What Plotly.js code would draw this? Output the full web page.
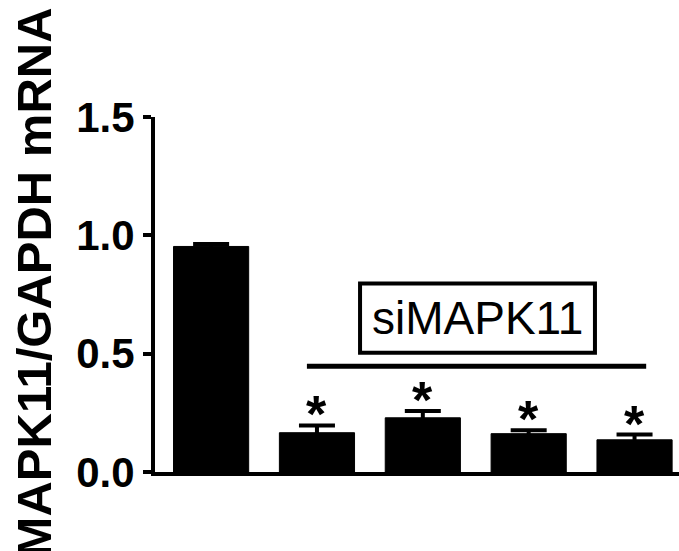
<!DOCTYPE html>
<html>
<head>
<meta charset="utf-8">
<script src="https://cdn.plot.ly/plotly-3.0.1.min.js"></script>
<style>html,body{margin:0;padding:0;background:#fff;overflow:hidden}</style>
</head>
<body>
<div id="chart" style="width:679px;height:551px"></div>
<script>
const categories = ["Control", "siMAPK11-1", "siMAPK11-2", "siMAPK11-3", "siMAPK11-4"];
const meanValues = [0.953, 0.166, 0.229, 0.162, 0.136];
const errorValues = [0.010, 0.031, 0.029, 0.014, 0.022];
const significance = ["", "*", "*", "*", "*"];
const yTickValues = [0, 0.5, 1.0, 1.5];
const yTickLabels = ["0.0", "0.5", "1.0", "1.5"];
const yTitle = "MAPK11/GAPDH mRNA";
const groupLabel = "siMAPK11";

const FONT = "Liberation Sans, Arial, sans-serif";

const trace = {
  type: "bar",
  x: categories.map((c, i) => i),
  y: meanValues,
  marker: {color: "#000000", line: {color: "#000000", width: 1}},
  width: 0.71,
  error_y: {type: "data", array: errorValues, symmetric: true, color: "#000000", thickness: 4, width: 18},
  hoverinfo: "skip"
};

const annotations = [];
significance.forEach((s, i) => {
  if (!s) return;
  annotations.push({
    x: i, y: meanValues[i] + errorValues[i], xref: "x", yref: "y",
    text: s, showarrow: false, yanchor: "bottom", yshift: -20,
    font: {family: FONT, size: 52, color: "#000", weight: "bold"}
  });
});
annotations.push({
  x: (1.407 + 3.626) / 2, y: 0.65, xref: "x", yref: "y",
  text: groupLabel, showarrow: false, xanchor: "center", yanchor: "middle",
  font: {family: FONT, size: 46, color: "#000"}
});
annotations.push({
  x: -0.231, y: 0.534, xref: "paper", yref: "paper",
  text: "<b>" + yTitle + "</b>", textangle: -90, showarrow: false,
  xanchor: "center", yanchor: "middle",
  font: {family: FONT, size: 49, color: "#000"}
});

const layout = {
  width: 679, height: 551,
  margin: {l: 155, r: 0, t: 117, b: 79, pad: 0},
  paper_bgcolor: "#fff", plot_bgcolor: "#fff",
  showlegend: false,
  xaxis: {
    type: "linear", range: [-0.53, 4.42], showgrid: false, zeroline: false,
    showticklabels: false, ticks: "", showline: true, linecolor: "#000", linewidth: 4
  },
  yaxis: {
    range: [0, 1.5], tickvals: yTickValues, ticktext: yTickLabels,
    showgrid: false, zeroline: false, ticks: "outside", ticklen: 8, tickwidth: 4, tickcolor: "#000",
    showline: true, linecolor: "#000", linewidth: 4,
    tickfont: {family: FONT, size: 42, color: "#000", weight: "bold"}
  },
  shapes: [
    {type: "rect", xref: "x", yref: "y", x0: 1.407, x1: 3.626, y0: 0.504, y1: 0.797,
     line: {color: "#000", width: 4}, fillcolor: "rgba(0,0,0,0)"},
    {type: "line", xref: "x", yref: "y", x0: 0.905, x1: 4.11, y0: 0.447, y1: 0.447,
     line: {color: "#000", width: 5}}
  ],
  annotations: annotations
};

Plotly.newPlot("chart", [trace], layout, {displayModeBar: false, staticPlot: true});
</script>
</body>
</html>
